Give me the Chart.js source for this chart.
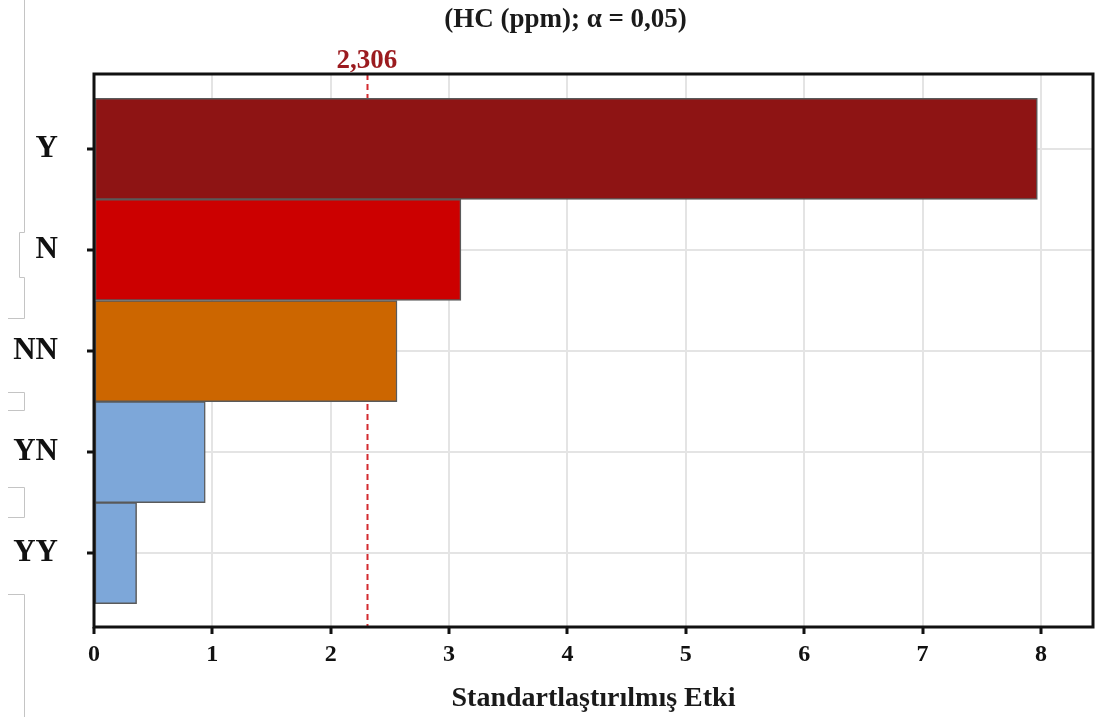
<!DOCTYPE html>
<html>
<head>
<meta charset="utf-8">
<script src="https://cdn.jsdelivr.net/npm/chart.js@4.4.1/dist/chart.umd.min.js"></script>
<style>
  html, body { margin: 0; padding: 0; background: #ffffff; }
  #wrap { width: 1096px; height: 717px; position: relative; }
</style>
</head>
<body>
<div id="wrap"><canvas id="pareto" width="1096" height="717"></canvas></div>
<script>
// Pareto chart of standardized effects for HC (ppm), alpha = 0.05
const chartTitle = '(HC (ppm); α = 0,05)';
const axisTitle = 'Standartlaştırılmış Etki';
const terms = ['Y', 'N', 'NN', 'YN', 'YY'];
const effects = [7.97, 3.10, 2.56, 0.94, 0.36];
const termColors = ['#8e1414', '#cc0000', '#cc6600', '#7da7d9', '#7da7d9'];
const effectTicks = [0, 1, 2, 3, 4, 5, 6, 7, 8];
const criticalValue = 2.306;
const criticalLabel = '2,306';

const serif = "'Liberation Serif', 'Times New Roman', serif";

// Heading centred over the plot frame
const heading = {
  id: 'heading',
  afterDraw(chart) {
    const { ctx, chartArea } = chart;
    ctx.save();
    ctx.fillStyle = '#1a1a1a';
    ctx.font = 'bold 27px ' + serif;
    ctx.textAlign = 'center';
    ctx.textBaseline = 'alphabetic';
    ctx.fillText(chartTitle, (chartArea.left + chartArea.right) / 2 - 28, 27);
    ctx.restore();
  }
};

// Reference line at the critical t value, drawn behind the bars
const criticalLine = {
  id: 'criticalLine',
  beforeDatasetsDraw(chart) {
    const { ctx, chartArea, scales } = chart;
    const x = Math.round(scales.x.getPixelForValue(criticalValue)) + 0.5;
    ctx.save();
    ctx.strokeStyle = '#d42a2f';
    ctx.lineWidth = 2;
    ctx.setLineDash([6, 4]);
    ctx.beginPath();
    ctx.moveTo(x, chartArea.top);
    ctx.lineTo(x, chartArea.bottom);
    ctx.stroke();
    ctx.restore();
  },
  afterDraw(chart) {
    const { ctx, chartArea, scales } = chart;
    const x = scales.x.getPixelForValue(criticalValue);
    ctx.save();
    ctx.fillStyle = '#9b1b1f';
    ctx.font = 'bold 27px ' + serif;
    ctx.textAlign = 'center';
    ctx.textBaseline = 'alphabetic';
    ctx.fillText(criticalLabel, x, chartArea.top - 6);
    ctx.restore();
  }
};

// Plot frame and the thin margin bracket rules on the left
const frame = {
  id: 'frame',
  afterDatasetsDraw(chart) {
    const { ctx, chartArea } = chart;
    ctx.save();
    ctx.strokeStyle = '#111111';
    ctx.lineWidth = 3;
    ctx.strokeRect(chartArea.left, chartArea.top, chartArea.right - chartArea.left, chartArea.bottom - chartArea.top);
    ctx.restore();
  },
  afterDraw(chart) {
    const { ctx } = chart;
    ctx.save();
    ctx.strokeStyle = '#c4c4c4';
    ctx.lineWidth = 1;
    const paths = [
      [[24.5, 0], [24.5, 232.5], [19.5, 232.5], [19.5, 277.5], [24.5, 277.5], [24.5, 318.5], [8, 318.5]],
      [[8, 392.5], [24.5, 392.5], [24.5, 410.5], [8, 410.5]],
      [[8, 487.5], [24.5, 487.5], [24.5, 517.5], [8, 517.5]],
      [[8, 594.5], [24.5, 594.5], [24.5, 717]]
    ];
    for (const p of paths) {
      ctx.beginPath();
      ctx.moveTo(p[0][0], p[0][1]);
      for (let i = 1; i < p.length; i++) ctx.lineTo(p[i][0], p[i][1]);
      ctx.stroke();
    }
    ctx.restore();
  }
};

new Chart(document.getElementById('pareto'), {
  type: 'bar',
  data: {
    datasets: [{
      data: effects.map((v, i) => ({ x: v, y: i })),
      backgroundColor: termColors,
      borderColor: '#5a5a5a',
      borderWidth: 1.5,
      borderSkipped: false,
      barPercentage: 1,
      categoryPercentage: 1
    }]
  },
  options: {
    indexAxis: 'y',
    responsive: false,
    animation: false,
    layout: { padding: { left: 0, right: 3, top: 74, bottom: 0 } },
    plugins: {
      legend: { display: false },
      tooltip: { enabled: false },
      title: { display: false }
    },
    scales: {
      x: {
        type: 'linear',
        position: 'bottom',
        min: 0,
        max: 8.44,
        afterBuildTicks(scale) { scale.ticks = effectTicks.map(v => ({ value: v })); },
        afterFit(scale) { scale.height = 90; },
        border: { display: false },
        grid: {
          color: '#e4e4e4',
          lineWidth: 2,
          drawTicks: true,
          tickLength: 7,
          tickColor: '#111111',
          tickWidth: 3
        },
        ticks: {
          color: '#111111',
          font: { family: serif, size: 24, weight: 'bold' },
          padding: 6,
          callback: v => String(v)
        },
        title: {
          display: true,
          text: axisTitle,
          color: '#1a1a1a',
          font: { family: serif, size: 28, weight: 'bold', lineHeight: 1.2 },
          padding: { top: 0, bottom: 1 }
        }
      },
      y: {
        type: 'linear',
        reverse: true,
        offset: false,
        min: -0.74,
        max: 4.73,
        afterBuildTicks(scale) { scale.ticks = terms.map((t, i) => ({ value: i })); },
        afterFit(scale) { scale.width = 94; },
        border: { display: false },
        grid: {
          offset: false,
          color: '#e4e4e4',
          lineWidth: 2,
          drawTicks: true,
          tickLength: 7,
          tickColor: '#111111',
          tickWidth: 3
        },
        ticks: {
          color: '#111111',
          font: { family: serif, size: 31, weight: 'bold' },
          padding: 29,
          callback: v => terms[v] ?? ''
        }
      }
    }
  },
  plugins: [heading, criticalLine, frame]
});
</script>
</body>
</html>
